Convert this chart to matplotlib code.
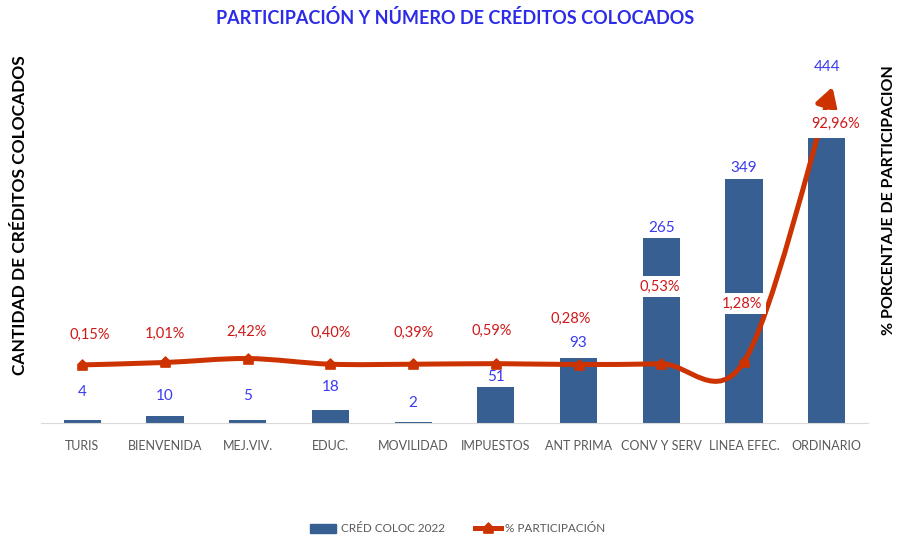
import numpy as np
import matplotlib
matplotlib.use("Agg")
import matplotlib.pyplot as plt
from matplotlib.path import Path
from matplotlib.patches import PathPatch, Patch
from matplotlib.lines import Line2D

plt.rcParams['font.family'] = ['Lato', 'DejaVu Sans']

# --- Datos -----------------------------------------------------------------
categorias = ["TURIS", "BIENVENIDA", "MEJ.VIV.", "EDUC.", "MOVILIDAD",
              "IMPUESTOS", "ANT PRIMA", "CONV Y SERV", "LINEA EFEC.", "ORDINARIO"]
creditos = [4, 10, 5, 18, 2, 51, 93, 265, 349, 444]
participacion = [0.15, 1.01, 2.42, 0.40, 0.39, 0.59, 0.28, 0.53, 1.28, 92.96]
etiquetas_pct = ["0,15%", "1,01%", "2,42%", "0,40%", "0,39%",
                 "0,59%", "0,28%", "0,53%", "1,28%", "92,96%"]

# Desplazamientos de etiquetas (px, respecto al punto / tope de barra)
off_bar = [28, 20, 24, 23, 19, 10, 15, 10, 11, 45]
off_pct = [(7, 30), (0, 29), (-1, 27), (0, 31), (0, 31),
           (-4, 33), (-8, 46), (-2, 77), (-2, 58), (9, -19)]
pad_pct = [0.25] * 9 + [0.5]

C_BAR = "#375F92"
C_LINE = "#CC3300"
C_BLUE = "#3A3AF0"
C_RED = "#D01818"
C_GRAY = "#595959"

fig = plt.figure(figsize=(8.97, 5.38), dpi=100)
W, H = 897, 538
ax = fig.add_axes([41 / W, (H - 423) / H, (868 - 41) / W, 373 / H])
ax2 = ax.twinx()
ax2.set_position(ax.get_position())

x = np.arange(len(categorias))
ax.bar(x, creditos, width=0.45, color=C_BAR, zorder=1)
ax.set_xlim(-0.5, len(categorias) - 0.5)
ax.set_ylim(0, 533)
ax2.set_ylim(-20.6, 112.6)

for a in (ax, ax2):
    for s in a.spines.values():
        s.set_visible(False)
    a.set_yticks([])
ax.spines["bottom"].set_visible(True)
ax.spines["bottom"].set_color("#D9D9D9")
ax.set_xticks(x)
ax.set_xticklabels(categorias, fontsize=9, color=C_GRAY)
ax.tick_params(axis="x", length=0, pad=12)
ax2.set_zorder(ax.get_zorder() + 1)
ax2.patch.set_visible(False)

# --- Línea suavizada (estilo Excel) en coordenadas de pantalla ----------------
pts = ax2.transData.transform(np.column_stack([x, participacion]))
n = len(pts)
verts = [pts[0]]
codes = [Path.MOVETO]
for i in range(n - 1):
    p0 = pts[i - 1] if i > 0 else pts[i]
    p1, p2 = pts[i], pts[i + 1]
    p3 = pts[i + 2] if i + 2 < n else pts[i + 1]
    c1 = p1 + (p2 - p0) / 6
    c2 = p2 - (p3 - p1) / 6
    verts += [c1, c2, p2]
    codes += [Path.CURVE4] * 3
verts = ax2.transData.inverted().transform(np.array(verts))
ax2.add_patch(PathPatch(Path(verts, codes), facecolor="none", edgecolor=C_LINE,
                        lw=3.6, capstyle="butt", joinstyle="round", zorder=2))

# flecha final
d = (pts[-1] - pts[-2]) / np.linalg.norm(pts[-1] - pts[-2])
tip = pts[-1] + d * 19
start = pts[-1] - d * 2
tip_d, start_d = ax2.transData.inverted().transform([tip, start])
ax2.annotate("", xy=tip_d, xytext=start_d,
             arrowprops=dict(arrowstyle="-|>,head_length=0.55,head_width=0.32",
                             color=C_LINE, lw=3.6, mutation_scale=20,
                             shrinkA=0, shrinkB=0), zorder=2)

house = Path([(-1, -1), (1, -1), (1, 0.2), (0, 1.2), (-1, 0.2), (-1, -1)],
             [Path.MOVETO] + [Path.LINETO] * 4 + [Path.CLOSEPOLY])
ax2.plot(x[:-1], participacion[:-1], linestyle="none", marker=house,
         markersize=8, color=C_LINE, zorder=3)

# --- Etiquetas ----------------------------------------------------------------
for xi, v, o in zip(x, creditos, off_bar):
    ax.annotate(str(v), (xi, v), xytext=(0, o * 0.72), textcoords="offset points",
                ha="center", va="center", fontsize=11, color=C_BLUE,
                bbox=dict(boxstyle="square,pad=0.15", fc="white", ec="none"),
                zorder=5)
for xi, v, t, (dx, dy), pd in zip(x, participacion, etiquetas_pct, off_pct, pad_pct):
    ax2.annotate(t, (xi, v), xytext=(dx * 0.72, dy * 0.72), textcoords="offset points",
                 ha="center", va="center", fontsize=10.5, color=C_RED,
                 bbox=dict(boxstyle=f"square,pad={pd}", fc="white", ec="none"),
                 zorder=5)

# --- Títulos ------------------------------------------------------------------
fig.text(455 / W, 1 - 18 / H, "PARTICIPACIÓN Y NÚMERO DE CRÉDITOS COLOCADOS",
         ha="center", va="center", fontsize=13, fontweight="bold", color="#2B2BE8")
fig.text(20 / W, 1 - 215 / H, "CANTIDAD DE CRÉDITOS COLOCADOS", rotation=90,
         ha="center", va="center", fontsize=12.5, fontweight="bold", color="black")
fig.text(889 / W, 1 - 200 / H, "% PORCENTAJE DE PARTICIPACION", rotation=90,
         ha="center", va="center", fontsize=11.5, fontweight="bold", color="black")

handles = [Patch(color=C_BAR),
           Line2D([], [], color=C_LINE, lw=3.6, marker=house, markersize=8)]
fig.legend(handles, ["CRÉD COLOC 2022", "% PARTICIPACIÓN"], loc="center",
           bbox_to_anchor=(458 / W, 1 - 529 / H), ncol=2, frameon=False,
           fontsize=8.5, labelcolor=C_GRAY, handlelength=2.2, columnspacing=2.5,
           handletextpad=0.4)

fig.savefig("out.png", dpi=100)
